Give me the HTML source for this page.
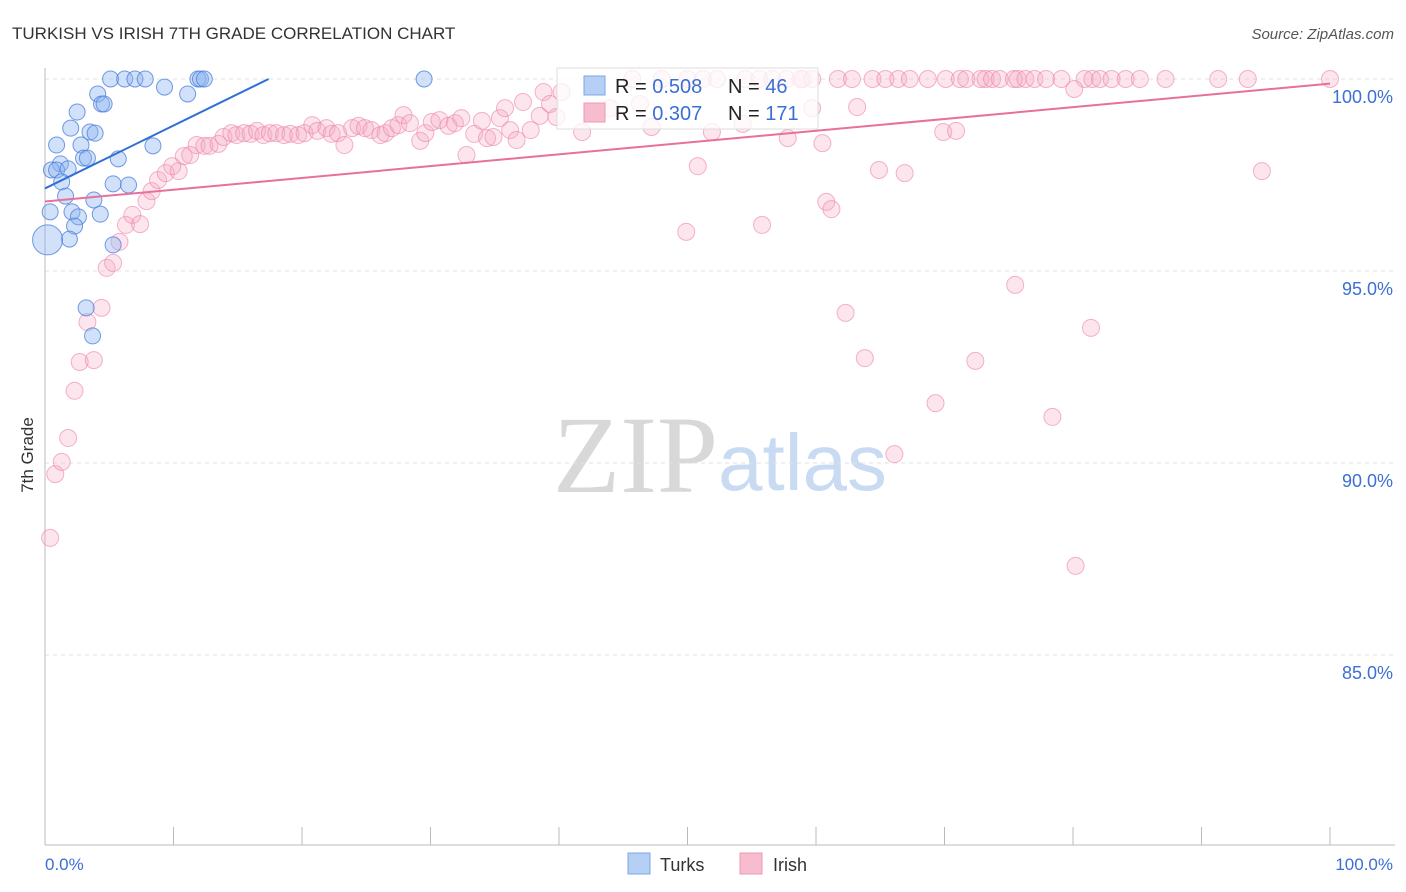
<!DOCTYPE html>
<html><head><meta charset="utf-8"><style>
body{margin:0;background:#fff;font-family:"Liberation Sans",sans-serif}
svg{display:block}
</style></head><body>
<svg id="chart" width="1406" height="892" xmlns="http://www.w3.org/2000/svg">
<text x="12" y="39" font-size="17" fill="#333">TURKISH VS IRISH 7TH GRADE CORRELATION CHART</text>
<text x="1394" y="39" font-size="15" fill="#555" text-anchor="end" font-style="italic">Source: ZipAtlas.com</text>
<g>
<text x="553" y="492" font-size="110" font-family="Liberation Serif,serif" fill="#d8d8d8">ZIP</text>
<text x="718" y="490" font-size="80" fill="#c9dbf2">atlas</text>
</g>
<g id="grid"></g>
<g id="yticks"></g>
<g id="xticks"></g>
<line x1="45" y1="68" x2="45" y2="845" stroke="#bbb"/>
<line x1="45" y1="845" x2="1395" y2="845" stroke="#bbb"/>
<text x="45" y="870" font-size="17" fill="#3b6fd4">0.0%</text>
<text x="1393" y="870" font-size="17" fill="#3b6fd4" text-anchor="end">100.0%</text>
<text transform="translate(33,455) rotate(-90)" font-size="17" fill="#333" text-anchor="middle">7th Grade</text>
<g id="irish"></g>
<g id="turks"></g>
<g id="trends"></g>
<g>
<rect x="557" y="68" width="261" height="61" fill="rgba(255,255,255,0.75)" stroke="#ddd"/>
<rect x="584" y="76" width="21" height="19" fill="#b5cff5" stroke="#7ea6e6"/>
<rect x="584" y="103" width="21" height="19" fill="#f7bccd" stroke="#ef9ab5"/>
<text x="615" y="93" font-size="20" fill="#222">R = <tspan fill="#3b6fd4">0.508</tspan></text>
<text x="728" y="93" font-size="20" fill="#222">N = <tspan fill="#3b6fd4"> 46</tspan></text>
<text x="615" y="120" font-size="20" fill="#222">R = <tspan fill="#3b6fd4">0.307</tspan></text>
<text x="728" y="120" font-size="20" fill="#222">N = <tspan fill="#3b6fd4">171</tspan></text>
</g>
<g>
<rect x="628" y="853" width="22" height="21" fill="#b5cff5" stroke="#7ea6e6"/>
<text x="660" y="871" font-size="18" fill="#333">Turks</text>
<rect x="740" y="853" width="22" height="21" fill="#f7bccd" stroke="#ef9ab5"/>
<text x="773" y="871" font-size="18" fill="#333">Irish</text>
</g>
</svg>
<script>
const yTickValues=[100,95,90,85];
const yTickLabels=["100.0%","95.0%","90.0%","85.0%"];
const turksX=[5.1,6.2,7.0,7.8,11.9,12.1,12.4,29.5,9.3,11.1,4.1,4.4,4.6,2.5,2.0,3.5,3.9,0.9,2.8,8.4,3.0,3.3,5.7,1.2,0.5,0.9,1.8,1.3,5.3,6.5,1.6,3.8,0.4,2.1,4.3,2.6,2.3,1.9,5.3,3.2,3.7,0.2];
const turksY=[100,100,100,100,100,100,100,100,99.79,99.61,99.61,99.35,99.35,99.14,98.72,98.62,98.59,98.28,98.28,98.26,97.94,97.94,97.92,97.79,97.63,97.63,97.66,97.32,97.27,97.24,96.95,96.85,96.54,96.54,96.48,96.41,96.17,95.83,95.68,94.04,93.31,95.81];
const irishX=[45.7,48.0,50.0,51.2,52.3,54.5,55.6,56.6,57.7,58.8,59.0,59.7,61.7,62.8,64.4,65.4,66.4,67.3,68.7,70.1,71.2,71.7,72.8,73.2,73.7,74.3,75.4,75.7,76.3,77.0,77.9,79.1,80.9,81.5,82.1,83.0,84.1,85.2,87.2,91.3,93.6,100,
0.4,0.8,1.3,1.8,2.3,2.7,3.8,3.3,4.4,4.8,5.3,5.8,6.3,6.8,7.4,7.9,8.3,8.8,9.4,10.4,9.9,10.8,11.3,11.8,12.4,12.8,13.5,13.9,14.5,14.9,15.5,16.0,16.5,17.0,17.5,18.0,18.6,19.1,19.7,20.2,20.8,21.2,21.9,22.3,22.8,23.3,23.9,24.4,24.9,25.4,26.1,26.5,27.0,27.5,27.9,28.4,29.2,29.6,30.1,30.7,31.4,31.9,32.4,32.8,33.4,34.0,34.4,34.9,35.4,35.8,36.2,36.7,37.2,37.8,38.5,38.8,39.3,39.8,40.2,41.8,44.0,46.3,47.2,50.8,49.9,51.9,54.3,55.8,57.8,59.7,60.5,60.8,61.2,62.3,63.2,63.8,64.9,66.1,66.9,69.3,69.9,70.9,72.4,75.5,78.4,80.2,81.4,80.1,94.7];
const irishY=[100,100,100,100,100,100,100,100,100,100,100,100,100,100,100,100,100,100,100,100,100,100,100,100,100,100,100,100,100,100,100,100,100,100,100,100,100,100,100,100,100,100,
88.05,89.71,90.03,90.65,91.88,92.63,92.68,93.67,94.04,95.08,95.21,95.76,96.20,96.46,96.22,96.82,97.08,97.37,97.55,97.60,97.73,97.99,98.02,98.28,98.26,98.26,98.31,98.49,98.59,98.54,98.59,98.57,98.65,98.54,98.59,98.59,98.54,98.57,98.54,98.59,98.80,98.65,98.72,98.57,98.59,98.28,98.72,98.78,98.72,98.67,98.54,98.59,98.72,98.80,99.06,98.85,98.39,98.59,98.88,98.93,98.78,98.85,98.98,98.02,98.57,98.91,98.46,98.49,98.98,99.24,98.67,98.41,99.40,98.67,99.04,99.66,99.35,99.01,99.66,98.62,99.24,99.35,98.75,97.73,96.02,98.62,98.83,96.20,98.46,99.24,98.33,96.80,96.61,93.91,99.27,92.73,97.63,90.23,97.55,91.56,98.62,98.65,92.66,94.64,91.20,87.32,93.52,99.74,97.60];
const turksTrend=[[0,97.15],[17.4,100]];
const irishTrend=[[0,96.81],[100,99.88]];
const NS='http://www.w3.org/2000/svg';
const xs=v=>45+v*12.85;
const ys=v=>79+(100-v)*38.4;
function mk(tag,attrs,parent){const e=document.createElementNS(NS,tag);for(const k in attrs)e.setAttribute(k,attrs[k]);parent.appendChild(e);return e;}
const grid=document.getElementById('grid'),yt=document.getElementById('yticks'),xt=document.getElementById('xticks');
yTickValues.forEach((v,i)=>{
 const l=mk('line',{x1:45,x2:1395,y1:ys(v),y2:ys(v),stroke:'#e2e2e2','stroke-dasharray':'4,4'},grid);
 
 
 const t=mk('text',{x:1393,y:ys(v)+24,'font-size':18,fill:'#3b6fd4','text-anchor':'end'},yt);
 t.textContent=yTickLabels[i];
 
 
});
for(let i=0;i<=10;i++){
 const l=mk('line',{x1:xs(i*10),x2:xs(i*10),y1:827,y2:845,stroke:'#bbb'},xt);
 
 
}
const ig=document.getElementById('irish');
irishX.forEach((x,i)=>{
 const c=mk('circle',{cx:xs(x),cy:ys(irishY[i]),r:8.5,fill:'rgba(245,170,196,0.3)',stroke:'rgba(236,130,166,0.6)','stroke-width':1},ig);
 
 
});
const tg=document.getElementById('turks');
turksX.forEach((x,i)=>{
 const big=i===turksX.length-1;
 const c=mk('circle',{cx:xs(x),cy:ys(turksY[i]),r:big?15:8,fill:'rgba(140,180,240,0.4)',stroke:'rgba(80,130,220,0.8)','stroke-width':1},tg);
 
 
});
const tr=document.getElementById('trends');
const l1=mk('line',{x1:xs(turksTrend[0][0]),y1:ys(turksTrend[0][1]),x2:xs(turksTrend[1][0]),y2:ys(turksTrend[1][1]),stroke:'#2f6fd6','stroke-width':2},tr);


const l2=mk('line',{x1:xs(irishTrend[0][0]),y1:ys(irishTrend[0][1]),x2:xs(irishTrend[1][0]),y2:ys(irishTrend[1][1]),stroke:'#e8709a','stroke-width':2},tr);


</script>
</body></html>
